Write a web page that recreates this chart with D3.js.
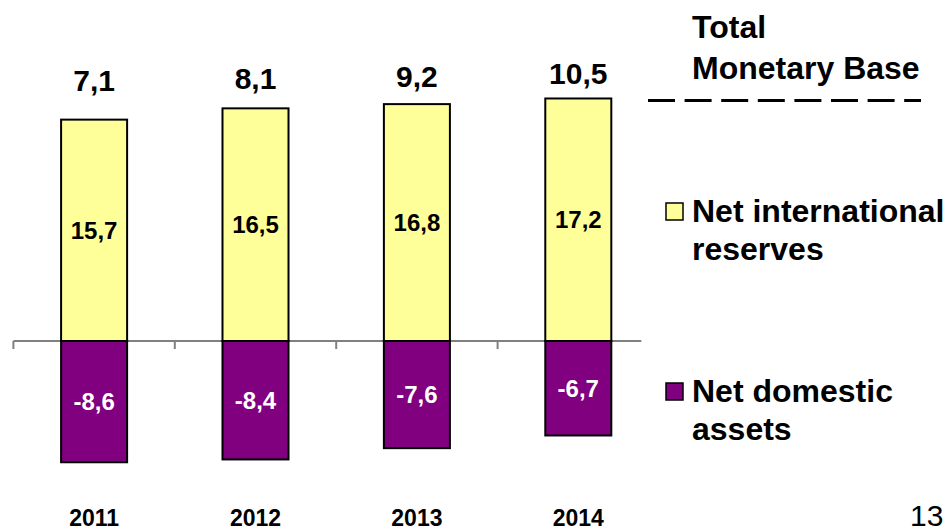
<!DOCTYPE html>
<html>
<head>
<meta charset="utf-8">
<script src="https://cdn.jsdelivr.net/npm/d3@7"></script>
<style>
  html, body { margin: 0; padding: 0; background: #fff; }
  svg { display: block; font-family: "Liberation Sans", Arial, sans-serif; }
</style>
</head>
<body>
<svg id="chart" width="945" height="531"></svg>
<script>
// Monetary base composition by year
const years = ["2011", "2012", "2013", "2014"];
const netInternationalReserves = [15.7, 16.5, 16.8, 17.2];
const netDomesticAssets = [-8.6, -8.4, -7.6, -6.7];
const totalMonetaryBase = [7.1, 8.1, 9.2, 10.5];
const legendLabels = {
  total: ["Total", "Monetary Base"],
  nir: ["Net international", "reserves"],
  nda: ["Net domestic", "assets"]
};
const pageNumber = "13";

const fmt = v => String(v.toFixed(1)).replace(".", ",");

const svg = d3.select("#chart");

const x = d3.scaleBand()
  .domain(years)
  .range([13.4, 659])
  .paddingInner(0.591)
  .paddingOuter(0.2955);

const y = d3.scaleLinear().domain([-10, 20]).range([482, 59]);

// secondary scale placing the total labels above the stacks
const yTotal = d3.scaleLinear().domain([7.1, 10.5]).range([91, 84]);

const yellow = "#FFFF99";
const purple = "#800080";

// zero axis line with ticks at category boundaries
const step = x.step();
const boundaries = years.map(d => x(d) - (step - x.bandwidth()) / 2);
const axisEnd = x(years[years.length - 1]) + x.bandwidth() + 30;
svg.append("line")
  .attr("x1", boundaries[0]).attr("x2", axisEnd)
  .attr("y1", y(0)).attr("y2", y(0))
  .attr("stroke", "#808080").attr("stroke-width", 2);
svg.selectAll("line.tick").data(boundaries).enter().append("line")
  .attr("class", "tick")
  .attr("x1", d => d).attr("x2", d => d)
  .attr("y1", y(0)).attr("y2", y(0) + 8)
  .attr("stroke", "#808080").attr("stroke-width", 2);

// positive bars
svg.selectAll("rect.nir").data(years).enter().append("rect")
  .attr("class", "nir")
  .attr("x", d => x(d))
  .attr("width", x.bandwidth())
  .attr("y", (d, i) => y(netInternationalReserves[i]))
  .attr("height", (d, i) => y(0) - y(netInternationalReserves[i]))
  .attr("fill", yellow).attr("stroke", "#000").attr("stroke-width", 2);

// negative bars
svg.selectAll("rect.nda").data(years).enter().append("rect")
  .attr("class", "nda")
  .attr("x", d => x(d))
  .attr("width", x.bandwidth())
  .attr("y", y(0))
  .attr("height", (d, i) => y(netDomesticAssets[i]) - y(0))
  .attr("fill", purple).attr("stroke", "#000").attr("stroke-width", 2);

// value labels inside bars
svg.selectAll("text.nirv").data(years).enter().append("text")
  .attr("class", "nirv")
  .attr("x", d => x(d) + x.bandwidth() / 2)
  .attr("y", (d, i) => (y(0) + y(netInternationalReserves[i])) / 2)
  .attr("dy", "0.35em")
  .attr("text-anchor", "middle")
  .attr("font-size", 24).attr("font-weight", "bold").attr("fill", "#000")
  .text((d, i) => fmt(netInternationalReserves[i]));

svg.selectAll("text.ndav").data(years).enter().append("text")
  .attr("class", "ndav")
  .attr("x", d => x(d) + x.bandwidth() / 2)
  .attr("y", (d, i) => (y(0) + y(netDomesticAssets[i])) / 2)
  .attr("dy", "0.35em")
  .attr("text-anchor", "middle")
  .attr("font-size", 24).attr("font-weight", "bold").attr("fill", "#fff")
  .text((d, i) => fmt(netDomesticAssets[i]));

// total labels
svg.selectAll("text.tot").data(years).enter().append("text")
  .attr("class", "tot")
  .attr("x", d => x(d) + x.bandwidth() / 2)
  .attr("y", (d, i) => yTotal(totalMonetaryBase[i]))
  .attr("text-anchor", "middle")
  .attr("font-size", 30).attr("font-weight", "bold").attr("fill", "#000")
  .text((d, i) => fmt(totalMonetaryBase[i]));

// year labels
svg.selectAll("text.year").data(years).enter().append("text")
  .attr("class", "year")
  .attr("x", d => x(d) + x.bandwidth() / 2)
  .attr("y", 526)
  .attr("text-anchor", "middle")
  .attr("font-size", 23).attr("font-weight", "bold").attr("fill", "#000")
  .text(d => d);

// legend
const lg = svg.append("g");
const lgX = 692, lgFont = 32;
lg.selectAll("text.lt").data(legendLabels.total).enter().append("text")
  .attr("x", lgX).attr("y", (d, i) => 38 + i * 41)
  .attr("font-size", lgFont).attr("font-weight", "bold")
  .text(d => d);
lg.append("line")
  .attr("x1", 648).attr("x2", 921)
  .attr("y1", 100.5).attr("y2", 100.5)
  .attr("stroke", "#000").attr("stroke-width", 3)
  .attr("stroke-dasharray", "27,9.6");

const items = [
  { color: yellow, lines: legendLabels.nir, top: 202 },
  { color: purple, lines: legendLabels.nda, top: 382 }
];
items.forEach(it => {
  lg.append("rect")
    .attr("x", 666).attr("y", it.top + 1)
    .attr("width", 17).attr("height", 17)
    .attr("fill", it.color).attr("stroke", "#000").attr("stroke-width", 1.5);
  lg.selectAll(null).data(it.lines).enter().append("text")
    .attr("x", lgX).attr("y", (d, i) => it.top + 20 + i * 38)
    .attr("font-size", lgFont).attr("font-weight", "bold")
    .text(d => d);
});

// page number
svg.append("text")
  .attr("x", 910).attr("y", 526)
  .attr("font-size", 30).attr("fill", "#000")
  .text(pageNumber);
</script>
</body>
</html>
